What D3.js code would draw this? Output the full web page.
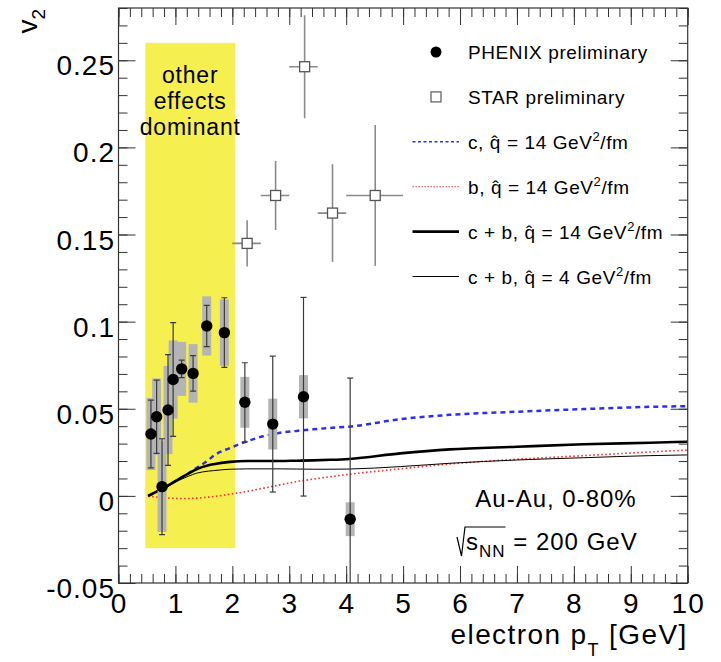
<!DOCTYPE html>
<html>
<head>
<meta charset="utf-8">
<script src="https://cdn.jsdelivr.net/npm/d3@7"></script>
<style>
  body { margin: 0; background: #fff; }
  text { font-family: "Liberation Sans", Arial, Helvetica, sans-serif; fill: #000; }
</style>
</head>
<body>
<div id="chart"></div>
<script>
// PHENIX preliminary (filled circles): pT, v2, stat error, sys error
const phenixPt  = [0.57, 0.67, 0.765, 0.87, 0.96, 1.11, 1.31, 1.55, 1.86, 2.22, 2.71, 3.25, 4.07];
const phenixV2  = [0.0355, 0.0454, 0.0053, 0.0493, 0.0668, 0.0729, 0.0703, 0.0975, 0.0937, 0.0537, 0.0412, 0.0569, -0.0134];
const phenixStat = [0.0194, 0.021, 0.0275, 0.0318, 0.0326, 0.005, 0.0102, 0.0118, 0.02, 0.0227, 0.039, 0.057, 0.081];
const phenixSys  = [0.0207, 0.022, 0.026, 0.0253, 0.0224, 0.0155, 0.0168, 0.017, 0.019, 0.0146, 0.0146, 0.0124, 0.0097];

// STAR preliminary (open squares)
const starPt    = [2.26, 2.76, 3.27, 3.76, 4.51];
const starV2    = [0.1449, 0.1724, 0.2463, 0.1623, 0.1724];
const starErr   = [0.0133, 0.0198, 0.0296, 0.028, 0.0404];
const starBinLo = [2.0, 2.5, 3.0, 3.5, 4.0];
const starBinHi = [2.5, 3.0, 3.5, 4.0, 5.0];

// model curves
const curvePt  = [0.52, 0.79, 1.08, 1.23, 1.37, 1.58, 1.67, 1.96, 2.25, 2.54, 2.84, 3.13, 3.42, 3.72, 4.05, 4.95, 5.82, 7.0, 8.17, 9.34, 10.0];
const charm14  = [0, 0.0044, 0.0101, 0.013, 0.016, 0.0206, 0.023, 0.0275, 0.0312, 0.0342, 0.0362, 0.0373, 0.0382, 0.039, 0.0397, 0.044, 0.0465, 0.0483, 0.0498, 0.0511, 0.0515];
const bottom14 = [-0.0002, -0.001, -0.0015, -0.0015, -0.0013, -0.0007, -0.0004, 0.001, 0.0025, 0.0044, 0.0063, 0.0082, 0.0096, 0.011, 0.0124, 0.0155, 0.0183, 0.021, 0.0231, 0.0252, 0.0263];
const sum14    = [0, 0.0044, 0.0101, 0.0128, 0.0153, 0.0176, 0.0182, 0.0195, 0.02, 0.02, 0.02, 0.0202, 0.0204, 0.0207, 0.0212, 0.0244, 0.0267, 0.0282, 0.0296, 0.0305, 0.0311];
const sum4     = [0, 0.0042, 0.0092, 0.0113, 0.013, 0.0142, 0.0145, 0.0153, 0.0155, 0.0155, 0.0155, 0.0154, 0.0153, 0.0153, 0.0154, 0.0168, 0.0187, 0.0206, 0.0219, 0.0231, 0.0235];

// "other effects dominant" band
const bandPt = [0.47, 2.05];
const bandV2 = [-0.03, 0.26];

const xMajor = d3.range(0, 11, 1);
const xMinor = d3.range(0, 10.01, 0.2);
const yMajor = [-0.05, 0, 0.05, 0.1, 0.15, 0.2, 0.25];
const yMinor = d3.range(-0.05, 0.2801, 0.01);

const width = 721, height = 662;

const svg = d3.select("#chart").append("svg")
  .attr("width", width)
  .attr("height", height);

const x = d3.scaleLinear().domain([0, 10]).range([118.5, 687.7]);
const y = d3.scaleLinear().domain([-0.05, 0.28]).range([583, 8]);

svg.append("clipPath").attr("id", "plot")
  .append("rect")
  .attr("x", x(0)).attr("y", y(0.28))
  .attr("width", x(10) - x(0)).attr("height", y(-0.05) - y(0.28));

const plot = svg.append("g").attr("clip-path", "url(#plot)");

// yellow band
plot.append("rect")
  .attr("x", x(bandPt[0]))
  .attr("y", y(bandV2[1]))
  .attr("width", x(bandPt[1]) - x(bandPt[0]))
  .attr("height", y(bandV2[0]) - y(bandV2[1]))
  .attr("fill", "#f5f050");

const bandText = svg.append("text")
  .attr("text-anchor", "middle")
  .style("font-size", "23px")
  .style("letter-spacing", "0.8px");
["other", "effects", "dominant"].forEach(function(t, i) {
  bandText.append("tspan")
    .attr("x", (x(bandPt[0]) + x(bandPt[1])) / 2)
    .attr("y", 83 + i * 26)
    .text(t);
});

// curves
function line(values) {
  return d3.line()
    .x(function(d, i) { return x(curvePt[i]); })
    .y(function(d) { return y(d); })
    .curve(d3.curveMonotoneX)(values);
}

plot.append("path").attr("d", line(bottom14))
  .attr("fill", "none").attr("stroke", "#ff3030")
  .attr("stroke-width", 1.6).attr("stroke-dasharray", "1.6,2.4");
plot.append("path").attr("d", line(sum4))
  .attr("fill", "none").attr("stroke", "#000").attr("stroke-width", 1);
plot.append("path").attr("d", line(charm14))
  .attr("fill", "none").attr("stroke", "#2f2ff0")
  .attr("stroke-width", 2.5).attr("stroke-dasharray", "5,4");
plot.append("path").attr("d", line(sum14))
  .attr("fill", "none").attr("stroke", "#000").attr("stroke-width", 2.6);

// PHENIX systematic boxes
plot.selectAll(".sys")
  .data(phenixPt)
  .enter().append("rect")
    .attr("class", "sys")
    .attr("x", function(d) { return x(d) - 4.5; })
    .attr("width", 9)
    .attr("y", function(d, i) { return y(phenixV2[i] + phenixSys[i]); })
    .attr("height", function(d, i) { return y(phenixV2[i] - phenixSys[i]) - y(phenixV2[i] + phenixSys[i]); })
    .attr("fill", "#b4b4b4");

// PHENIX stat errors
const stat = plot.selectAll(".stat")
  .data(phenixPt)
  .enter().append("g")
    .attr("class", "stat")
    .attr("stroke", "#3a3a3a")
    .attr("stroke-width", 1.2);
stat.append("line")
  .attr("x1", function(d) { return x(d); })
  .attr("x2", function(d) { return x(d); })
  .attr("y1", function(d, i) { return y(phenixV2[i] + phenixStat[i]); })
  .attr("y2", function(d, i) { return y(phenixV2[i] - phenixStat[i]); });
[1, -1].forEach(function(s) {
  stat.append("line")
    .attr("x1", function(d) { return x(d) - 3; })
    .attr("x2", function(d) { return x(d) + 3; })
    .attr("y1", function(d, i) { return y(phenixV2[i] + s * phenixStat[i]); })
    .attr("y2", function(d, i) { return y(phenixV2[i] + s * phenixStat[i]); });
});

plot.selectAll(".phenix")
  .data(phenixPt)
  .enter().append("circle")
    .attr("class", "phenix")
    .attr("cx", function(d) { return x(d); })
    .attr("cy", function(d, i) { return y(phenixV2[i]); })
    .attr("r", 5.7)
    .attr("fill", "#000");

// STAR error bars and markers
const star = plot.selectAll(".star")
  .data(starPt)
  .enter().append("g")
    .attr("class", "star")
    .attr("stroke", "#8a8a8a")
    .attr("stroke-width", 1.6);
star.append("line")
  .attr("x1", function(d) { return x(d); })
  .attr("x2", function(d) { return x(d); })
  .attr("y1", function(d, i) { return y(starV2[i] + starErr[i]); })
  .attr("y2", function(d, i) { return y(starV2[i] - starErr[i]); });
star.append("line")
  .attr("x1", function(d, i) { return x(starBinLo[i]); })
  .attr("x2", function(d, i) { return x(starBinHi[i]); })
  .attr("y1", function(d, i) { return y(starV2[i]); })
  .attr("y2", function(d, i) { return y(starV2[i]); });
star.append("rect")
  .attr("x", function(d) { return x(d) - 5; })
  .attr("y", function(d, i) { return y(starV2[i]) - 5; })
  .attr("width", 10).attr("height", 10)
  .attr("fill", "#fff")
  .attr("stroke", "#555")
  .attr("stroke-width", 1.3);

// axes: ticks on all four sides, pointing inward
function fmt(d) { return String(+d.toFixed(2)); }

function axisSet(make, pos, scale, major, minor, labels) {
  svg.append("g").attr("transform", pos)
    .call(make(scale).tickValues(minor).tickSize(-9).tickFormat(""));
  const g = svg.append("g").attr("transform", pos)
    .call(make(scale).tickValues(major).tickSize(-17).tickPadding(labels ? labels : 3)
      .tickFormat(labels ? fmt : ""));
  return g;
}

const gx = axisSet(d3.axisBottom, "translate(0," + y(-0.05) + ")", x, xMajor, xMinor, 10);
const gy = axisSet(d3.axisLeft, "translate(" + x(0) + ",0)", y, yMajor, yMinor, 3.5);
axisSet(d3.axisTop, "translate(0," + y(0.28) + ")", x, xMajor, xMinor, 0);
axisSet(d3.axisRight, "translate(" + x(10) + ",0)", y, yMajor, yMinor, 0);

svg.selectAll(".domain").remove();
svg.selectAll(".tick line").attr("stroke", "#333");
svg.selectAll(".tick text")
  .style("font-family", "'Liberation Sans', Arial, sans-serif")
  .style("font-size", "28px")
  .style("letter-spacing", "1px")
  .attr("fill", "#000");
gy.selectAll(".tick text").attr("dy", "0.52em");

svg.append("rect")
  .attr("x", x(0)).attr("y", y(0.28))
  .attr("width", x(10) - x(0)).attr("height", y(-0.05) - y(0.28))
  .attr("fill", "none").attr("stroke", "#333").attr("stroke-width", 1.2);

// axis titles
const xt = svg.append("text")
  .attr("x", x(10)).attr("y", 644)
  .attr("text-anchor", "end")
  .style("font-size", "28px")
  .style("letter-spacing", "1.4px");
xt.append("tspan").text("electron p");
xt.append("tspan").attr("dy", 12).style("font-size", "18px").text("T");
xt.append("tspan").attr("dy", -12).text(" [GeV]");

const yt = svg.append("text")
  .attr("transform", "translate(37,9) rotate(-90)")
  .attr("text-anchor", "end")
  .style("font-size", "28px");
yt.append("tspan").text("v");
yt.append("tspan").attr("dy", 8).style("font-size", "19px").text("2");

// legend
const legendX = 436, legendText = 468, legendY0 = 52, legendStep = 44.9;
const legendItems = [
  {type: "circle", label: ["PHENIX preliminary"]},
  {type: "square", label: ["STAR preliminary"]},
  {type: "line", stroke: "#2f2ff0", width: 1.6, dash: "3,2.5", label: ["c, ", "14"]},
  {type: "line", stroke: "#ff5050", width: 1.3, dash: "1.3,1.7", label: ["b, ", "14"]},
  {type: "line", stroke: "#000", width: 2.8, dash: null, label: ["c + b, ", "14"]},
  {type: "line", stroke: "#000", width: 1, dash: null, label: ["c + b, ", "4"]}
];

const legend = svg.append("g");
legendItems.forEach(function(item, i) {
  const ly = legendY0 + i * legendStep;
  if (item.type === "circle") {
    legend.append("circle").attr("cx", legendX).attr("cy", ly).attr("r", 5.5).attr("fill", "#000");
  } else if (item.type === "square") {
    legend.append("rect").attr("x", legendX - 5).attr("y", ly - 5).attr("width", 10).attr("height", 10)
      .attr("fill", "#fff").attr("stroke", "#666").attr("stroke-width", 1.3);
  } else {
    legend.append("line").attr("x1", 412.5).attr("x2", 459).attr("y1", ly).attr("y2", ly)
      .attr("stroke", item.stroke).attr("stroke-width", item.width)
      .attr("stroke-dasharray", item.dash);
  }
  const t = legend.append("text")
    .attr("x", legendText).attr("y", ly + 7)
    .style("font-size", "19px")
    .style("letter-spacing", "0.6px");
  if (item.label.length === 1) {
    t.text(item.label[0]);
  } else {
    t.append("tspan").text(item.label[0] + "q\u0302 = " + item.label[1] + " GeV");
    t.append("tspan").attr("dy", -8).style("font-size", "13px").text("2");
    t.append("tspan").attr("dy", 8).text("/fm");
  }
});

// collision system annotation
svg.append("text")
  .attr("x", 556).attr("y", 507)
  .attr("text-anchor", "middle")
  .style("font-size", "24px")
  .style("letter-spacing", "1px")
  .text("Au-Au, 0-80%");

const sx = 466, sy = 550;
const sqrtText = svg.append("text")
  .attr("x", sx).attr("y", sy)
  .style("font-size", "24px")
  .style("letter-spacing", "1px");
sqrtText.append("tspan").text("s");
sqrtText.append("tspan").attr("dy", 7).style("font-size", "17px").text("NN");
sqrtText.append("tspan").attr("dy", -7).text(" = 200 GeV");
const rootEnd = sx + sqrtText.node().getSubStringLength(0, 3);
svg.append("path")
  .attr("d", "M" + (sx - 9) + "," + (sy - 13) + " L" + (sx - 4.5) + "," + (sy + 6) +
             " L" + (sx - 1) + "," + (sy - 23) + " L" + rootEnd + "," + (sy - 23))
  .attr("fill", "none").attr("stroke", "#000").attr("stroke-width", 1.2);
</script>
</body>
</html>
